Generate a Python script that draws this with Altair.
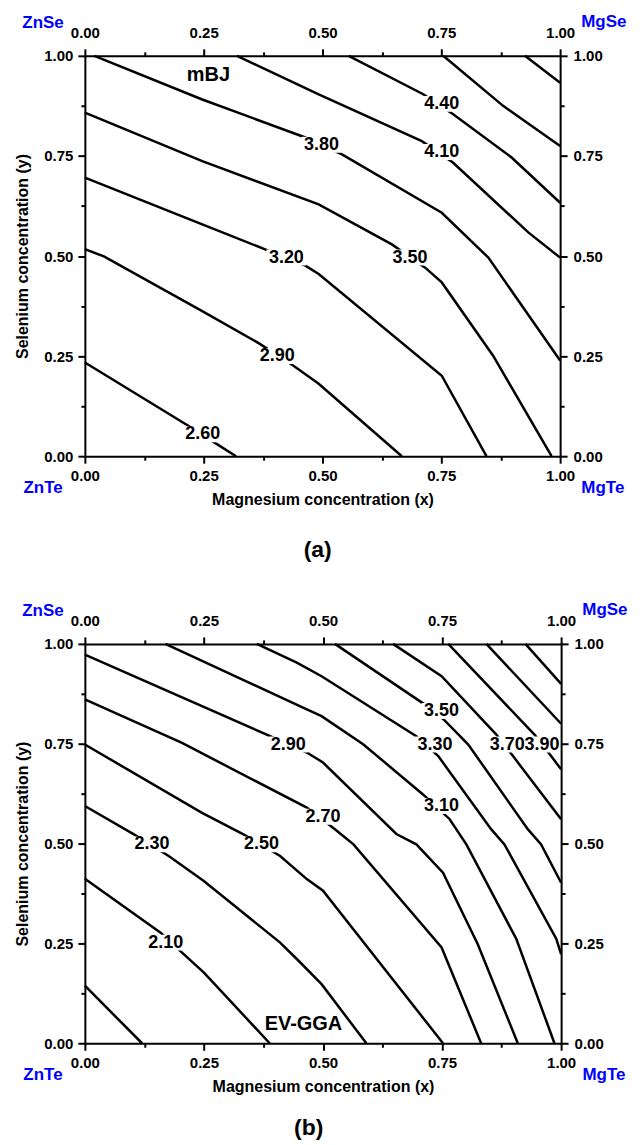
import altair as alt
import pandas as pd

FONT = "Liberation Sans"

# ---------------- panel (a): mBJ contour lines ----------------
a_260_x = [0.000, 0.215, 0.282, 0.318]
a_260_y = [0.234, 0.078, 0.027, 0.000]
a_290_x = [0.000, 0.040, 0.246, 0.369, 0.439, 0.492, 0.667]
a_290_y = [0.517, 0.499, 0.363, 0.280, 0.226, 0.181, 0.000]
a_320_x = [0.000, 0.247, 0.387, 0.464, 0.492, 0.751, 0.845]
a_320_y = [0.696, 0.579, 0.513, 0.476, 0.455, 0.201, 0.000]
a_350_x = [0.000, 0.247, 0.492, 0.646, 0.716, 0.751, 0.859, 0.982]
a_350_y = [0.858, 0.737, 0.629, 0.529, 0.471, 0.434, 0.251, 0.000]
a_380_x = [0.020, 0.247, 0.464, 0.541, 0.751, 0.849, 1.000]
a_380_y = [1.000, 0.891, 0.796, 0.754, 0.608, 0.496, 0.239]
a_410_x = [0.320, 0.492, 0.709, 0.775, 0.933, 1.000]
a_410_y = [1.000, 0.904, 0.787, 0.733, 0.559, 0.496]
a_440_x = [0.555, 0.712, 0.775, 0.898, 1.000]
a_440_y = [1.000, 0.904, 0.854, 0.746, 0.633]
a_470_x = [0.754, 0.880, 1.000]
a_470_y = [1.000, 0.875, 0.775]
a_500_x = [0.926, 1.000]
a_500_y = [1.000, 0.933]

a_lab_text = ["2.60", "2.90", "3.20", "3.50", "3.80", "4.10", "4.40"]
a_lab_x = [0.248, 0.405, 0.424, 0.684, 0.498, 0.751, 0.751]
a_lab_y = [0.055, 0.250, 0.496, 0.496, 0.778, 0.760, 0.880]

# ---------------- panel (b): EV-GGA contour lines ----------------
b_190_x = [0.000, 0.120]
b_190_y = [0.144, 0.000]
b_210_x = [0.000, 0.159, 0.204, 0.250, 0.388]
b_210_y = [0.412, 0.277, 0.227, 0.177, 0.000]
b_230_x = [0.000, 0.103, 0.176, 0.249, 0.410, 0.445, 0.497, 0.591]
b_230_y = [0.594, 0.523, 0.469, 0.407, 0.252, 0.211, 0.148, 0.000]
b_250_x = [0.000, 0.246, 0.333, 0.410, 0.466, 0.500, 0.752]
b_250_y = [0.748, 0.577, 0.523, 0.469, 0.411, 0.382, 0.000]
b_270_x = [0.000, 0.204, 0.466, 0.525, 0.564, 0.749, 0.832]
b_270_y = [0.861, 0.752, 0.590, 0.536, 0.498, 0.240, 0.000]
b_290_x = [0.000, 0.389, 0.466, 0.500, 0.654, 0.696, 0.752, 0.825, 0.909]
b_290_y = [0.973, 0.769, 0.728, 0.703, 0.524, 0.498, 0.427, 0.248, 0.000]
b_310_x = [0.169, 0.466, 0.497, 0.585, 0.710, 0.766, 0.801, 0.906, 0.986]
b_310_y = [1.000, 0.836, 0.819, 0.748, 0.623, 0.561, 0.498, 0.261, 0.000]
b_330_x = [0.361, 0.445, 0.497, 0.696, 0.742, 0.853, 0.881, 0.990, 1.000]
b_330_y = [1.000, 0.953, 0.919, 0.769, 0.719, 0.536, 0.498, 0.261, 0.223]
b_350_x = [0.525, 0.714, 0.756, 0.805, 0.930, 0.958, 1.000]
b_350_y = [1.000, 0.848, 0.808, 0.748, 0.536, 0.498, 0.402]
b_370_x = [0.647, 0.749, 0.864, 0.899, 1.000]
b_370_y = [1.000, 0.919, 0.773, 0.719, 0.561]
b_390_x = [0.763, 0.944, 0.979, 1.000]
b_390_y = [1.000, 0.773, 0.719, 0.686]
b_410_x = [0.843, 1.000]
b_410_y = [1.000, 0.800]
b_430_x = [0.925, 1.000]
b_430_y = [1.000, 0.900]

b_lab_text = ["2.10", "2.30", "2.50", "2.70", "2.90", "3.10", "3.30", "3.50", "3.70", "3.90"]
b_lab_x = [0.170, 0.141, 0.371, 0.500, 0.427, 0.749, 0.735, 0.749, 0.887, 0.960]
b_lab_y = [0.252, 0.498, 0.498, 0.567, 0.748, 0.594, 0.748, 0.832, 0.748, 0.748]

# ---------------- annotations ----------------
corner_text = ["ZnSe", "MgSe", "ZnTe", "MgTe"]
corner_x = [-0.088, 1.092, -0.088, 1.090]
corner_y = [1.083, 1.085, -0.079, -0.080]

method_text = ["mBJ", "EV-GGA"]
method_x = [0.260, 0.459]
method_y = [0.953, 0.048]

panel_text = ["(a)", "(b)"]
panel_x = [0.49, 0.47]
panel_y = [-0.235, -0.212]

TICKS = [0.0, 0.25, 0.5, 0.75, 1.0]
MINOR = [0.125, 0.375, 0.625, 0.875]

A_LINES = [("2.60", a_260_x, a_260_y), ("2.90", a_290_x, a_290_y), ("3.20", a_320_x, a_320_y),
           ("3.50", a_350_x, a_350_y), ("3.80", a_380_x, a_380_y), ("4.10", a_410_x, a_410_y),
           ("4.40", a_440_x, a_440_y), ("4.70", a_470_x, a_470_y), ("5.00", a_500_x, a_500_y)]
B_LINES = [("1.90", b_190_x, b_190_y), ("2.10", b_210_x, b_210_y), ("2.30", b_230_x, b_230_y),
           ("2.50", b_250_x, b_250_y), ("2.70", b_270_x, b_270_y), ("2.90", b_290_x, b_290_y),
           ("3.10", b_310_x, b_310_y), ("3.30", b_330_x, b_330_y), ("3.50", b_350_x, b_350_y),
           ("3.70", b_370_x, b_370_y), ("3.90", b_390_x, b_390_y), ("4.10", b_410_x, b_410_y),
           ("4.30", b_430_x, b_430_y)]


def lines_df(lines):
    rows = []
    for name, xs, ys in lines:
        for k, (xv, yv) in enumerate(zip(xs, ys)):
            rows.append({"line": name, "k": k, "x": xv, "y": yv})
    return pd.DataFrame(rows)


def major_axis(orient, pad, title=None, title_pad=10):
    kw = dict(orient=orient, values=TICKS, format=".2f", tickSize=7, tickWidth=2,
              tickColor="black", domainColor="black", domainWidth=2, labelFont=FONT,
              labelFontSize=15, labelFontWeight="bold", labelColor="black",
              labelPadding=pad, grid=False, zindex=1, labelFlush=False,
              labelOverlap=False, labelBound=False)
    if title:
        kw.update(title=title, titleFont=FONT, titleFontSize=16, titleFontWeight="bold",
                  titleColor="black", titlePadding=title_pad)
    else:
        kw["title"] = None
    return alt.Axis(**kw)


def minor_axis(orient):
    return alt.Axis(orient=orient, values=MINOR, labels=False, domain=False, tickSize=4,
                    tickWidth=2, tickColor="black", grid=False, title=None, zindex=1)


def panel(lines, lab_text, lab_x, lab_y, idx, w, h):
    xs = alt.Scale(domain=[0, 1], nice=False, zero=False)
    ys = alt.Scale(domain=[0, 1], nice=False, zero=False)
    ldf = lines_df(lines)
    labdf = pd.DataFrame({"t": lab_text, "x": lab_x, "y": lab_y})
    cdf = pd.DataFrame({"t": corner_text, "x": corner_x, "y": corner_y})
    mdf = pd.DataFrame({"t": [method_text[idx]], "x": [method_x[idx]], "y": [method_y[idx]]})
    pdf = pd.DataFrame({"t": [panel_text[idx]], "x": [panel_x[idx]], "y": [panel_y[idx]]})

    base_lines = alt.Chart(ldf).mark_line(color="black", strokeWidth=2.5).encode(
        x=alt.X("x:Q", scale=xs, axis=major_axis("bottom", 5, "Magnesium concentration (x)", 8)),
        y=alt.Y("y:Q", scale=ys, axis=major_axis("left", 5, "Selenium concentration (y)", 13)),
        detail="line:N", order="k:Q")
    boxes = alt.Chart(labdf).mark_point(shape="M-1,-0.4H1V0.4H-1Z", filled=True, color="white",
                                        opacity=1, size=1600, strokeWidth=0).encode(
        x=alt.X("x:Q", scale=xs, axis=major_axis("top", 8)),
        y=alt.Y("y:Q", scale=ys, axis=major_axis("right", 6)))
    texts = alt.Chart(labdf).mark_text(font=FONT, fontSize=18, fontWeight="bold", color="black",
                                       baseline="middle", align="center").encode(
        x=alt.X("x:Q", scale=xs, axis=minor_axis("bottom")),
        y=alt.Y("y:Q", scale=ys, axis=minor_axis("left")),
        text="t:N")
    corners = alt.Chart(cdf).mark_text(font=FONT, fontSize=17, fontWeight="bold", color="#0000FF",
                                       baseline="middle", align="center").encode(
        x=alt.X("x:Q", scale=xs, axis=minor_axis("top")),
        y=alt.Y("y:Q", scale=ys, axis=minor_axis("right")),
        text="t:N")
    method = alt.Chart(mdf).mark_text(font=FONT, fontSize=20, fontWeight="bold", color="black",
                                      baseline="middle", align="center").encode(
        x=alt.X("x:Q", scale=xs, axis=None), y=alt.Y("y:Q", scale=ys, axis=None), text="t:N")
    plabel = alt.Chart(pdf).mark_text(font=FONT, fontSize=23, fontWeight="bold", color="black",
                                      baseline="middle", align="center").encode(
        x=alt.X("x:Q", scale=xs, axis=None), y=alt.Y("y:Q", scale=ys, axis=None), text="t:N")
    return alt.layer(base_lines, boxes, texts, corners, method, plabel).resolve_axis(
        x="independent", y="independent").properties(width=w, height=h)


top = panel(A_LINES, a_lab_text, a_lab_x, a_lab_y, 0, 476, 401)
bottom = panel(B_LINES, b_lab_text, b_lab_x, b_lab_y, 1, 477, 400)

chart = alt.vconcat(top, bottom, spacing=37).properties(
    padding={"left": 6, "top": 3, "right": 5, "bottom": 0}
).configure_view(stroke=None).configure(background="white")

chart.save("out.html", embed_options={"renderer": "svg", "actions": False})
